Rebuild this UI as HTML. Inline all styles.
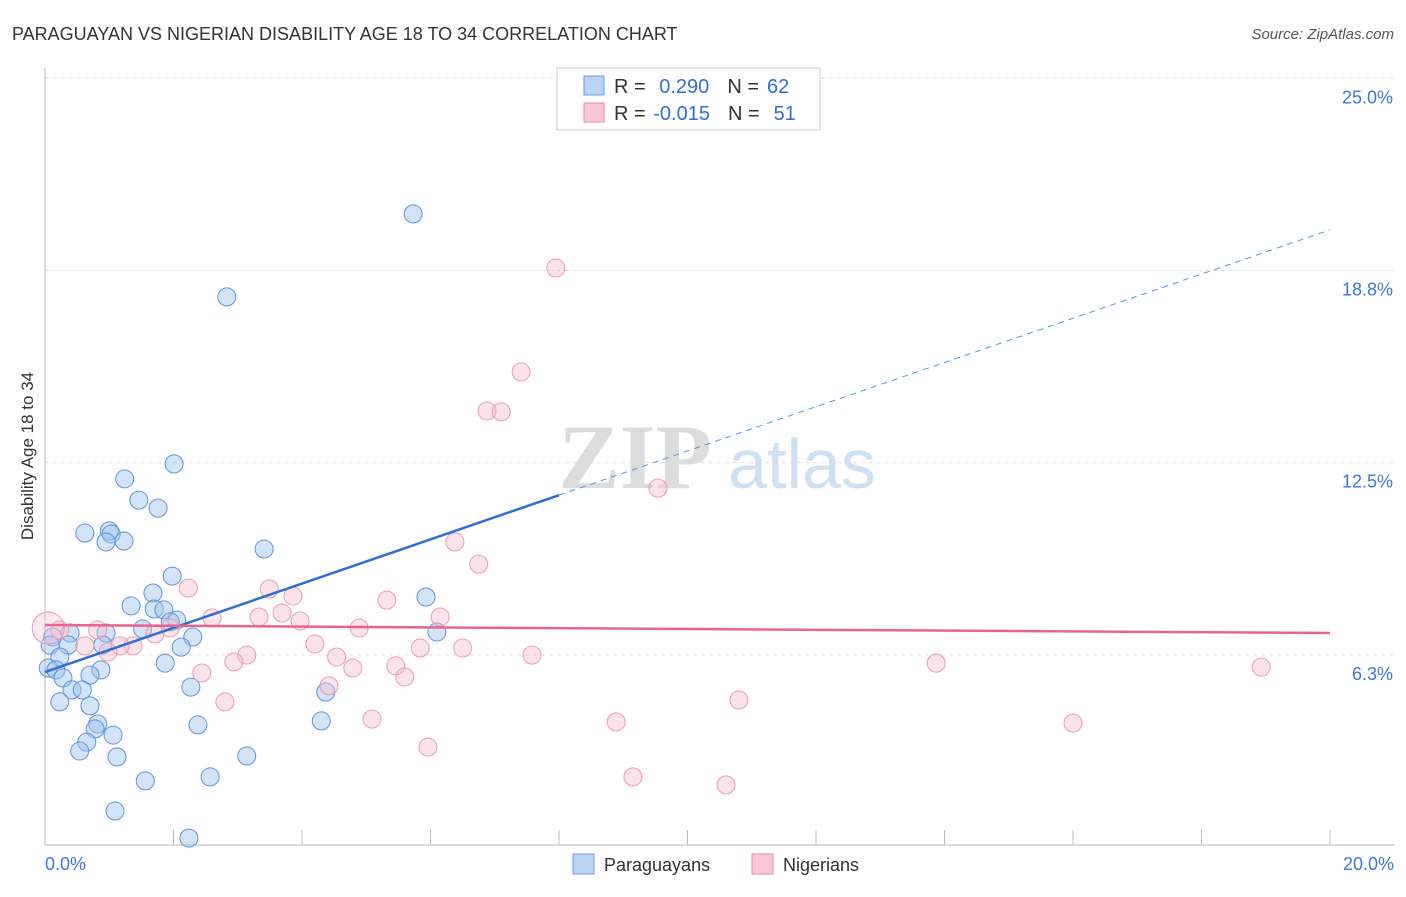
<!DOCTYPE html>
<html><head><meta charset="utf-8"><style>
body{margin:0;background:#fff;font-family:"Liberation Sans",sans-serif;}
</style></head><body>
<svg id="chart" width="1406" height="892" xmlns="http://www.w3.org/2000/svg" font-family="Liberation Sans, sans-serif">
<text x="12" y="40" font-size="18" fill="#333">PARAGUAYAN VS NIGERIAN DISABILITY AGE 18 TO 34 CORRELATION CHART</text>
<text x="1394" y="39" font-size="15" fill="#555" text-anchor="end" font-style="italic">Source: ZipAtlas.com</text>
<g>
<text x="635" y="488" font-size="92" fill="#dcdcdc" text-anchor="middle" font-family="Liberation Serif, serif" font-weight="bold">ZIP</text>
<text x="802" y="488" font-size="70" fill="#cfe0f3" text-anchor="middle">atlas</text>
</g>
<g id="grid"></g>
<g id="axes"></g>
<g id="pts"></g>
<g id="lines"></g>
<text transform="translate(33,456) rotate(-90)" font-size="17" fill="#333" text-anchor="middle">Disability Age 18 to 34</text>
<g>
<rect x="557" y="68" width="263" height="62" fill="#fff" stroke="#ccc"/>
<rect x="584" y="76" width="20" height="19" fill="#b9d3f5" stroke="#6b9de0"/>
<rect x="584" y="103" width="20" height="19" fill="#f9c7d5" stroke="#e88aa7"/>
<text x="614" y="93" font-size="20" fill="#333">R = <tspan fill="#2f6fd6" dx="8">0.290</tspan><tspan dx="18" fill="#333">N =</tspan><tspan dx="8" fill="#2f6fd6">62</tspan></text>
<text x="614" y="120" font-size="20" fill="#333">R = <tspan fill="#2f6fd6" dx="2">-0.015</tspan><tspan dx="18" fill="#333">N =</tspan><tspan dx="14" fill="#2f6fd6">51</tspan></text>
</g>
<g>
<rect x="573" y="854" width="21" height="20" fill="#b9d3f5" stroke="#6b9de0"/>
<text x="604" y="871" font-size="18" fill="#333">Paraguayans</text>
<rect x="752" y="854" width="21" height="20" fill="#f9c7d5" stroke="#e88aa7"/>
<text x="783" y="871" font-size="18" fill="#333">Nigerians</text>
</g>
</svg>
<script>
const yTicks=[6.25,12.5,18.75,25];
const yTickLabels=["6.3%","12.5%","18.8%","25.0%"];
const xTickLabels=["0.0%","20.0%"];
const blueX=[5.73,2.83,2.01,1.24,1.46,1.76,0.62,1.00,1.03,0.95,1.23,3.41,1.98,1.68,1.34,1.70,1.85,2.05,1.95,1.52,5.93,6.10,0.95,0.39,2.30,2.12,0.90,0.12,0.08,0.36,0.23,0.05,0.17,1.87,0.87,0.28,0.70,0.42,0.58,2.27,4.37,0.23,0.70,0.82,0.78,1.06,2.38,4.30,0.65,0.54,1.12,3.14,1.56,2.57,1.09,2.24];
const blueY=[20.59,17.89,12.46,11.97,11.28,11.02,10.21,10.28,10.18,9.92,9.95,9.69,8.81,8.26,7.84,7.74,7.71,7.38,7.32,7.09,8.13,6.99,6.96,6.96,6.83,6.50,6.57,6.83,6.57,6.57,6.18,5.82,5.76,5.98,5.76,5.50,5.59,5.11,5.11,5.20,5.04,4.72,4.59,4.00,3.84,3.64,3.97,4.10,3.41,3.12,2.93,2.96,2.15,2.28,1.17,0.29];
const pinkX=[7.95,7.41,6.88,7.10,9.54,6.38,6.75,2.23,3.49,3.86,5.32,3.69,2.60,3.33,3.97,6.15,4.89,1.71,0.82,0.23,0.05,1.95,4.20,1.37,1.17,0.62,0.98,5.84,6.50,7.58,3.14,4.54,2.94,5.46,4.79,5.60,2.44,13.87,18.93,4.42,2.80,10.80,5.09,8.89,16.00,5.96,9.15,10.60];
const pinkY=[18.83,15.45,14.18,14.15,11.67,9.92,9.20,8.42,8.39,8.16,8.03,7.61,7.45,7.48,7.35,7.48,7.12,6.93,7.06,7.06,7.12,7.12,6.60,6.54,6.54,6.54,6.34,6.47,6.47,6.24,6.24,6.18,6.02,5.89,5.82,5.53,5.66,5.98,5.85,5.24,4.72,4.78,4.16,4.07,4.03,3.25,2.28,2.02];
const blueLine=[5.69,20.07];
const pinkLine=[7.22,6.96];
const blueSolidEnd=8.0;
const NS="http://www.w3.org/2000/svg";
const X0=45,X1=1330,Y0=847,PXY=30.75;
const sx=v=>X0+(v/20)*(X1-X0);
const sy=v=>Y0-v*PXY;
function mk(tag,attrs,parent){const e=document.createElementNS(NS,tag);for(const k in attrs)e.setAttribute(k,attrs[k]);parent.appendChild(e);return e;}
const grid=document.getElementById('grid'),axes=document.getElementById('axes'),pts=document.getElementById('pts'),lines=document.getElementById('lines');
yTicks.forEach((t,i)=>{
 const l=mk('line',{x1:X0,x2:1395,y1:sy(t),y2:sy(t),stroke:'#ddd','stroke-dasharray':'4 4'},grid);
 
 
 const tx=mk('text',{x:1393,y:sy(t)+25,'font-size':18,fill:'#3b78d8','text-anchor':'end'},grid);
 tx.textContent=yTickLabels[i];
 
 
});
const ya=mk('line',{x1:X0,x2:X0,y1:68,y2:845,stroke:'#bbb'},axes);


const xa=mk('line',{x1:X0,x2:1395,y1:845,y2:845,stroke:'#bbb'},axes);


for(let k=1;k<=10;k++){const x=sx(k*2);const t=mk('line',{x1:x,x2:x,y1:830,y2:845,stroke:'#bbb'},axes);
 
 }
[[0,'start',45],[20,'end',1394]].forEach((d,i)=>{const t=mk('text',{x:d[2],y:870,'font-size':18,fill:'#3b78d8','text-anchor':d[1]},axes);t.textContent=xTickLabels[i];
 
 });
blueX.forEach((x,i)=>{const c=mk('circle',{cx:sx(x),cy:sy(blueY[i]),r:9,fill:'rgba(160,196,240,0.45)',stroke:'#5d93dc','stroke-width':1},pts);
 
 });
pinkX.forEach((x,i)=>{const c=mk('circle',{cx:sx(x),cy:sy(pinkY[i]),r:i==20?16:9,fill:i==20?'rgba(248,186,204,0.3)':'rgba(248,186,204,0.4)',stroke:'#ec9ab2','stroke-width':1},pts);
 
 });
const by=x=>blueLine[0]+(blueLine[1]-blueLine[0])*x/20;
const b1=mk('line',{x1:sx(0),y1:sy(by(0)),x2:sx(blueSolidEnd),y2:sy(by(blueSolidEnd)),stroke:'#2a6fd8','stroke-width':2.5},lines);


const b2=mk('line',{x1:sx(blueSolidEnd),y1:sy(by(blueSolidEnd)),x2:sx(20),y2:sy(by(20)),stroke:'#5d93dc','stroke-width':1,'stroke-dasharray':'6 5'},lines);


const p1=mk('line',{x1:sx(0),y1:sy(pinkLine[0]),x2:sx(20),y2:sy(pinkLine[1]),stroke:'#e8648f','stroke-width':2.5},lines);


</script>
</body></html>
